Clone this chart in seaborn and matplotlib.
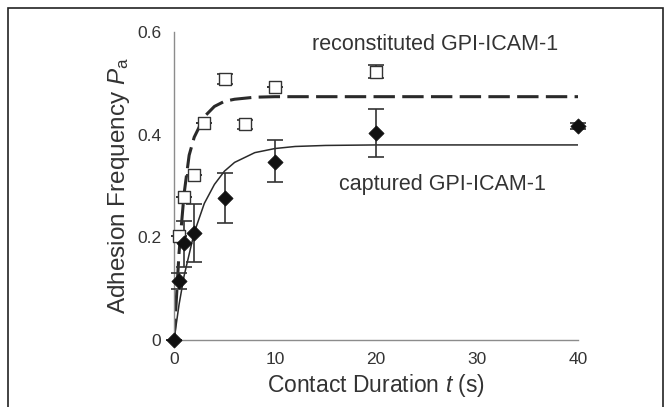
import numpy as np
import pandas as pd
import matplotlib
matplotlib.use("Agg")
import matplotlib.pyplot as plt
import seaborn as sns
from matplotlib.patches import Rectangle

# ---- data ----
cap_t = [0, 0.5, 1, 2, 5, 10, 20, 40]
cap_p = [0.0, 0.115, 0.188, 0.208, 0.276, 0.347, 0.404, 0.417]
cap_lo = [0.0, 0.10, 0.143, 0.151, 0.228, 0.308, 0.357, 0.412]
cap_hi = [0.0, 0.13, 0.232, 0.265, 0.325, 0.390, 0.450, 0.422]

rec_t = [0, 0.5, 1, 2, 3, 5, 7, 10, 20]
rec_p = [0.0, 0.203, 0.279, 0.321, 0.423, 0.508, 0.420, 0.493, 0.523]
rec_err = [0.0, 0.0, 0.0, 0.0, 0.0, 0.01, 0.008, 0.0, 0.012]

# fitted curves
capfit_t = [0, 0.5, 1, 2, 3, 4, 5, 6, 8, 10, 12, 15, 20, 40]
capfit_p = [0, 0.069, 0.125, 0.209, 0.266, 0.303, 0.329, 0.346, 0.365, 0.373, 0.377, 0.379, 0.38, 0.38]
recfit_t = [0, 0.5, 1, 1.5, 2, 3, 4, 5, 6, 8, 10, 40]
recfit_p = [0, 0.17, 0.285, 0.36, 0.395, 0.435, 0.455, 0.465, 0.469, 0.473, 0.474, 0.474]

xticks = [0, 10, 20, 30, 40]
yticks = [0, 0.2, 0.4, 0.6]
ytick_labels = ["0", "0.2", "0.4", "0.6"]

sns.set_style("white")
plt.rcParams["font.family"] = ["Liberation Sans", "DejaVu Sans"]
plt.rcParams["mathtext.fontset"] = "custom"
plt.rcParams["mathtext.rm"] = "Liberation Sans"
plt.rcParams["mathtext.it"] = "Liberation Sans:italic"

txt = "#333333"
axc = "#8c8c8c"

fig = plt.figure(figsize=(6.71, 4.07), dpi=100)
ax = fig.add_axes([174/671, 1 - 340/407, (578-174)/671, (340-32)/407])

df_cf = pd.DataFrame({"t": capfit_t, "p": capfit_p})
df_rf = pd.DataFrame({"t": recfit_t, "p": recfit_p})
sns.lineplot(data=df_cf, x="t", y="p", ax=ax, color="#2a2a2a", lw=1.1, zorder=2)
sns.lineplot(data=df_rf, x="t", y="p", ax=ax, color="#2a2a2a", lw=2.2, zorder=2)
ax.lines[-1].set_dashes([7, 2.4])

cap_p_a = np.array(cap_p)
yerr = [cap_p_a - np.array(cap_lo), np.array(cap_hi) - cap_p_a]
ax.errorbar(cap_t, cap_p, yerr=yerr, fmt="none", ecolor="#333333", elinewidth=1.2,
            capsize=5.5, capthick=1.2, zorder=3, clip_on=False)
ax.errorbar(rec_t, rec_p, yerr=rec_err, fmt="none", ecolor="#333333", elinewidth=1.2,
            capsize=5.5, capthick=1.2, zorder=3, clip_on=False)

df_c = pd.DataFrame({"t": cap_t, "p": cap_p})
df_r = pd.DataFrame({"t": rec_t[1:], "p": rec_p[1:]})
sns.scatterplot(data=df_r, x="t", y="p", ax=ax, marker="s", s=70, facecolor="white",
                edgecolor="#333333", linewidth=1.0, zorder=4, clip_on=False)
sns.scatterplot(data=df_c, x="t", y="p", ax=ax, marker="D", s=60, color="#111111",
                edgecolor="#111111", linewidth=0.5, zorder=5, clip_on=False)

ax.set_xlim(0, 40)
ax.set_ylim(0, 0.6)
ax.set_xticks(xticks)
ax.set_yticks(yticks)
ax.set_yticklabels(ytick_labels)
ax.tick_params(axis="both", direction="out", length=3, width=1, color=axc,
               labelsize=12.5, labelcolor=txt, pad=6)
for s in ["top", "right"]:
    ax.spines[s].set_visible(False)
for s in ["left", "bottom"]:
    ax.spines[s].set_color(axc)
    ax.spines[s].set_linewidth(1)

ax.set_xlabel("Contact Duration $\\it{t}$ (s)", fontsize=16.5, color=txt, labelpad=3)
ax.set_ylabel("Adhesion Frequency $\\it{P}_{\\rm a}$", fontsize=17.5, color=txt, labelpad=4)

ax.text(25.8, 0.575, "reconstituted GPI-ICAM-1", fontsize=15.5, color=txt, ha="center", va="center")
ax.text(26.6, 0.302, "captured GPI-ICAM-1", fontsize=15.5, color=txt, ha="center", va="center")

fig.patches.append(Rectangle((8/671, -0.05), 655/671, 1 - 8/407 + 0.05,
                             transform=fig.transFigure, fill=False,
                             edgecolor="#222222", lw=1.2))

fig.savefig("out.png", dpi=100)
